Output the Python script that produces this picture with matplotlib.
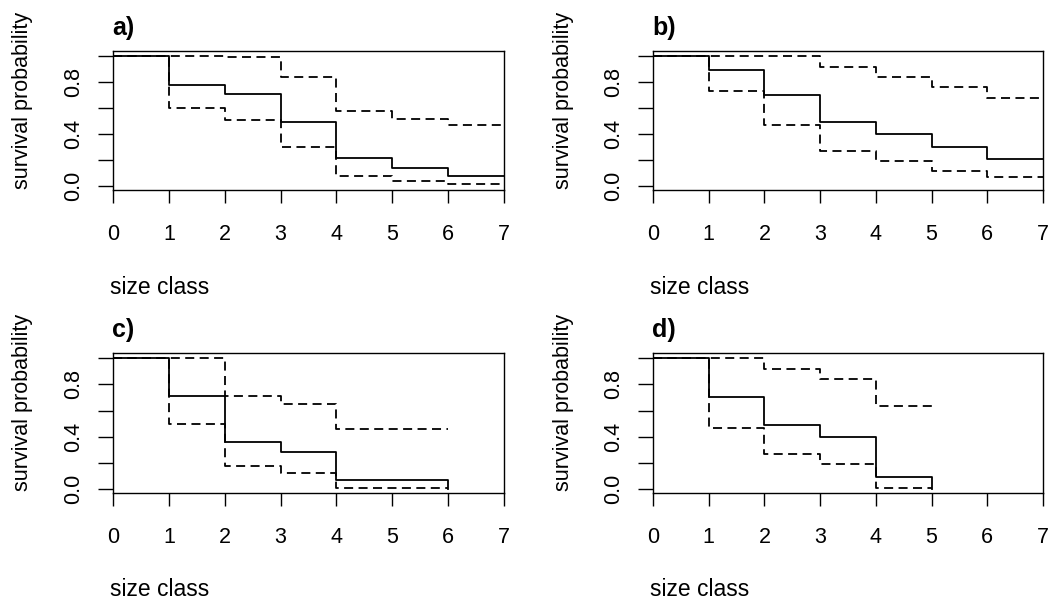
import matplotlib
matplotlib.use("Agg")
import matplotlib.pyplot as plt

plt.rcParams["font.family"] = ["Liberation Sans", "DejaVu Sans"]

# ── DATOS (valor de cada escalón desde cada tiempo; el último es el valor final) ──
a_times = [0, 1, 2, 3, 4, 5, 6, 7]
a_est = [1.0, 0.78, 0.71, 0.49, 0.22, 0.14, 0.08, 0.08]
a_hi  = [1.0, 1.0, 0.99, 0.84, 0.58, 0.52, 0.47, 0.47]
a_lo  = [1.0, 0.60, 0.51, 0.30, 0.08, 0.04, 0.015, 0.015]

b_times = [0, 1, 2, 3, 4, 5, 6, 7]
b_est = [1.0, 0.89, 0.70, 0.49, 0.40, 0.30, 0.21, 0.21]
b_hi  = [1.0, 1.0, 1.0, 0.92, 0.84, 0.76, 0.68, 0.68]
b_lo  = [1.0, 0.73, 0.47, 0.27, 0.19, 0.12, 0.07, 0.07]

c_times = [0, 1, 2, 3, 4, 6]
c_est = [1.0, 0.71, 0.36, 0.28, 0.07, 0.0]
c_hi  = [1.0, 1.0, 0.71, 0.65, 0.46, 0.46]
c_lo  = [1.0, 0.50, 0.18, 0.12, 0.01, 0.01]

d_times = [0, 1, 2, 3, 4, 5]
d_est = [1.0, 0.70, 0.49, 0.40, 0.095, 0.0]
d_hi  = [1.0, 1.0, 0.92, 0.845, 0.635, 0.635]
d_lo  = [1.0, 0.465, 0.265, 0.19, 0.01, 0.01]

panels = [
    ("a)", a_times, a_est, a_hi, a_lo),
    ("b)", b_times, b_est, b_hi, b_lo),
    ("c)", c_times, c_est, c_hi, c_lo),
    ("d)", d_times, d_est, d_hi, d_lo),
]

x_ticks = [0, 1, 2, 3, 4, 5, 6, 7]
y_ticks = [0.0, 0.2, 0.4, 0.6, 0.8, 1.0]
y_ticklabels = ["0.0", "", "0.4", "", "0.8", ""]

# ── FIGURA (posiciones en píxeles) ──
W, H = 1052, 601
fig = plt.figure(figsize=(W / 100, H / 100), dpi=100)

boxes = [  # left, right, top, bottom
    (113, 504, 51, 190),
    (653, 1043, 51, 190),
    (113, 504, 353, 493),
    (653, 1043, 353, 493),
]

FS = 15.5

for (lab, t, est, hi, lo), (l, r, top, bot) in zip(panels, boxes):
    ax = fig.add_axes([l / W, 1 - bot / H, (r - l) / W, (bot - top) / H])

    ax.step(t, est, where="post", color="black", lw=1.3)
    ax.step(t, hi, where="post", color="black", lw=1.3, dashes=(5, 3))
    ax.step(t, lo, where="post", color="black", lw=1.3, dashes=(5, 3))

    ax.set_xlim(0, 7)
    ax.set_ylim(-0.03, 1.04)
    ax.set_xticks(x_ticks)
    ax.set_yticks(y_ticks)
    ax.set_yticklabels(y_ticklabels, rotation=90, va="center")
    ax.tick_params(axis="x", length=9.5, width=1.0, pad=15, labelsize=FS)
    ax.tick_params(axis="y", length=10.5, width=1.0, pad=10, labelsize=FS)
    for s in ax.spines.values():
        s.set_linewidth(1.0)

    fig.text((l - 1) / W, 1 - (top - 23) / H, lab, fontsize=18,
             fontweight="bold", ha="left", va="center")
    fig.text((l - 3) / W, 1 - (bot + 97) / H, "size class", fontsize=16.5,
             ha="left", va="center")
    fig.text((l - 90) / W, 1 - (top + 49) / H, "survival probability",
             fontsize=FS, rotation=90, ha="center", va="center")

plt.savefig("out.png", dpi=100)
